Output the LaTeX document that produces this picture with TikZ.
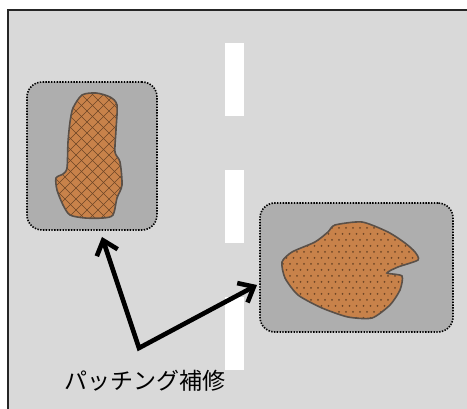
\documentclass[tikz,border=0pt]{standalone}
\usepackage{fontspec}
\newfontfamily\jp{Noto Sans CJK JP}
\usetikzlibrary{arrows.meta}
\definecolor{roadgray}{HTML}{D9D9D9}
\definecolor{boxgray}{HTML}{AEAEAE}
\definecolor{patchor}{HTML}{C8824A}
\definecolor{outline}{HTML}{5A5048}
\definecolor{hatch}{HTML}{6E4626}
\begin{document}
\begin{tikzpicture}[x=1pt,y=-1pt,
  lane/.style={fill=white, draw=none, minimum width=19pt, minimum height=73pt, inner sep=0pt},
  patchbox/.style={draw=black, line width=1.6pt, dash pattern=on 1.4pt off 1.4pt, fill=boxgray, rounded corners=15pt, inner sep=0pt},
  patchline/.style={draw=outline, line width=1.6pt},
  hatchline/.style={draw=hatch, line width=0.7pt},
  arr/.style={line width=4.6pt, line join=miter, {Straight Barb[length=13pt,width=22pt]}-{Straight Barb[length=13pt,width=22pt]}}
]
\useasboundingbox (0,0) rectangle (467,409);
\fill[roadgray] (8,10) rectangle (467,409);
\draw[line width=2pt, black!85] (8,409) -- (8,10) -- (467,10);

\node[lane] (lane1) at (234.5,79.5) {};
\node[lane] (lane2) at (234.5,206.5) {};
\node[lane] (lane3) at (234.5,333.5) {};

\node[patchbox, minimum width=130pt, minimum height=148pt] (boxL) at (92,156) {};
\node[patchbox, minimum width=193pt, minimum height=129pt] (boxR) at (356.5,267.5) {};

\def\blobL{plot[smooth cycle, tension=0.45] coordinates {(82,95) (96,93) (110,97) (117,105) (116,130) (115,152) (120,162) (122,185) (117,198) (113,215) (103,218) (85,218) (70,215) (63,205) (57,190) (56,178) (63,174) (67,168) (68,142) (70,122) (73,108)}}
\def\blobR{plot[smooth cycle, tension=0.4] coordinates {(328,232) (335,225) (362,222) (388,232) (405,243) (415,252) (418,260) (398,267) (387,273) (402,276) (400,290) (390,305) (372,318) (348,317) (322,308) (298,295) (285,278) (282,262) (292,252) (315,242)}}

\fill[patchor] \blobL;
\begin{scope}
  \clip \blobL;
  \foreach \i in {-120,-109,...,150} {
    \draw[hatchline] (\i,80) -- (\i+150,230);
    \draw[hatchline] (\i+150,80) -- (\i,230);
  }
\end{scope}
\draw[patchline] \blobL;

\fill[patchor] \blobR;
\begin{scope}
  \clip \blobR;
  \foreach \x in {276,283,...,424} {
    \foreach \y in {216,228,...,324} {
      \fill[hatch] (\x,\y) circle (1pt);
      \fill[hatch] (\x+3.5,\y+6) circle (1pt);
    }
  }
\end{scope}
\draw[patchline] \blobR;

\coordinate (v) at (139,348);
\coordinate (tipL) at (102,237);
\coordinate (tipR) at (257,285);
\draw[arr] (tipL) -- (v) -- (tipR);

\node[font=\jp\fontsize{23}{23}\selectfont, inner sep=0pt] (lbl) at (145,381) {パッチング補修};
\end{tikzpicture}
\end{document}
